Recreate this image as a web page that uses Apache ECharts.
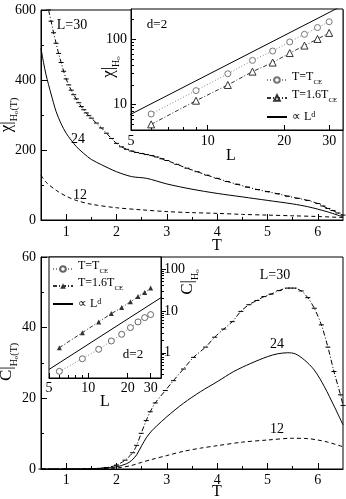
<!DOCTYPE html>
<html>
<head>
<meta charset="utf-8">
<script src="https://cdn.jsdelivr.net/npm/echarts@6/dist/echarts.min.js"></script>
<style>
  html, body { margin: 0; padding: 0; background: #fff; }
  #chart { width: 346px; height: 499px; }
</style>
</head>
<body>
<div id="chart"></div>
<script>
// upper panel: chi vs T for L = 30, 24, 12
const tTop30 = [0.65, 0.7, 0.75, 0.8, 0.85, 0.9, 0.95, 1.0, 1.05, 1.1, 1.15, 1.2, 1.25, 1.3, 1.35, 1.4, 1.45, 1.5,
  1.6, 1.7, 1.8, 1.9, 2.0, 2.1, 2.2, 2.3, 2.4, 2.5, 2.6, 2.7, 2.8, 2.9, 3.0,
  3.2, 3.4, 3.6, 3.8, 4.0, 4.2, 4.4, 4.6, 4.8, 5.0, 5.2, 5.4, 5.6, 5.8, 6.0,
  6.1, 6.2, 6.3, 6.4, 6.5];
const chi30 = [600, 568, 535, 505, 476, 450, 425, 403, 386, 371, 358, 346, 335, 324, 315, 306, 298, 291,
  277, 263, 248, 233, 219, 209, 202, 197, 193, 190, 187, 184, 180, 175, 170,
  159, 148, 138, 128, 119, 110, 102, 94, 87, 81, 75, 68, 62, 56, 47,
  40, 33, 27, 20, 14];
const tTop24 = [0.5, 0.55, 0.6, 0.7, 0.8, 0.9, 1.0, 1.1, 1.2, 1.35, 1.5, 1.7, 2.0, 2.3, 2.6, 3.0, 3.5, 4.0, 4.5, 5.0, 5.5, 5.8, 6.0, 6.2, 6.5];
const chi24 = [490, 450, 415, 360, 310, 275, 248, 228, 210, 190, 173, 158, 138, 124, 119, 103, 88, 76, 66, 56, 46, 38, 31, 23, 9];
const tTop12 = [0.5, 0.6, 0.8, 1.0, 1.2, 1.5, 2.0, 2.5, 3.0, 3.5, 4.0, 4.5, 5.0, 5.5, 6.0, 6.5];
const chi12 = [128, 108, 85, 68, 56, 45, 35, 29, 24, 21, 19, 16, 14, 12, 10, 7];

// upper inset: chi at H0 vs L
const insetL = [6, 9, 12, 15, 18, 21, 24, 27, 30];
const chiTce = [7.2, 16.4, 29.7, 47.5, 66, 91, 119, 151, 185];
const chiT16 = [5.0, 11.5, 20, 32, 44, 61.5, 80, 101, 125];
const chiLawL = [4.8, 34];
const chiLaw = [6.6, 330];

// lower panel: C vs T
const tBot30 = [0.5, 1.0, 1.5, 1.8, 2.0, 2.17, 2.32, 2.4, 2.49, 2.59, 2.67, 2.77, 2.97, 3.13, 3.33, 3.53, 3.77, 3.95,
  4.13, 4.3, 4.47, 4.63, 4.79, 4.93, 5.07, 5.23, 5.4, 5.53, 5.67, 5.8, 5.93, 6.07, 6.2, 6.32, 6.45, 6.5];
const c30 = [0, 0, 0.1, 0.4, 1.1, 2.5, 4.6, 6.7, 10.1, 13.7, 16.2, 18.7, 22.2, 25.0, 28.3, 31.6, 34.5, 37.3,
  39.6, 41.7, 44.6, 46.5, 47.7, 48.8, 49.5, 50.5, 51.2, 51.2, 50.4, 48.5, 45.5, 40.8, 34.5, 27.6, 21.0, 18];
const tBot24 = [0.5, 1.0, 1.5, 1.8, 2.0, 2.2, 2.3, 2.4, 2.5, 2.6, 2.7, 2.8, 3.0, 3.33, 3.67, 4.0, 4.33, 4.67, 5.0, 5.2,
  5.4, 5.55, 5.73, 5.93, 6.13, 6.33, 6.5];
const c24 = [0, 0, 0.1, 0.3, 0.6, 1.5, 2.4, 4.0, 6.6, 9.0, 10.8, 12.2, 14.8, 18.6, 21.9, 24.7, 27.6, 29.9, 31.8, 32.6,
  32.9, 32.6, 30.9, 28.0, 23.3, 17.6, 12.5];
const tBot12 = [0.5, 1.0, 1.5, 2.0, 2.3, 2.5, 2.7, 3.0, 3.33, 3.67, 4.0, 4.5, 5.0, 5.5, 5.8, 6.0, 6.2, 6.5];
const c12 = [0, 0, 0.05, 0.3, 1.0, 1.9, 2.7, 3.8, 5.0, 5.9, 6.6, 7.6, 8.2, 8.7, 8.6, 8.2, 7.6, 6.3];

// lower inset: C at H0 vs L
const cTce = [0.36, 0.72, 1.21, 1.91, 2.76, 3.98, 5.45, 6.9, 8.15];
const cT16 = [1.32, 3.02, 5.45, 8.6, 12, 16.4, 22, 27.5, 35];
const cLawL = [5, 36];
const cLaw = [0.40, 20.7];

// tick labels
const tTicks = [1, 2, 3, 4, 5, 6];
const tMinor = [1.5, 2.5, 3.5, 4.5, 5.5];
const chiTicks = [0, 200, 400, 600];
const chiMinor = [100, 300, 500];
const cTicks = [0, 20, 40, 60];
const cMinor = [10, 30, 50];
const lTicks = [5, 10, 20, 30];
const lMinor = [6, 7, 8, 9];
const chiInsetTicks = [10, 100];
const chiInsetMinor = [5, 6, 7, 8, 9, 20, 30, 40, 50, 60, 70, 80, 90, 200];
const cInsetTicks = [1, 10, 100];
const cInsetMinor = [0.3, 0.4, 0.5, 0.6, 0.7, 0.8, 0.9, 2, 3, 4, 5, 6, 7, 8, 9, 20, 30, 40, 50, 60, 70, 80, 90];

const FONT = 'Liberation Serif';
const zip = (xs, ys) => xs.map((x, i) => [x, ys[i]]);

const chart = echarts.init(document.getElementById('chart'));

function axis(grid, type, min, max, ticks, opts) {
  const o = opts || {};
  return {
    gridIndex: grid, type: type, min: min, max: max,
    position: o.position, z: o.z || 2,
    axisLine: { show: o.line !== false, onZero: false, lineStyle: { color: '#000', width: 1 } },
    axisTick: { show: true, inside: o.outside ? false : true, length: o.len || 5, customValues: ticks,
      lineStyle: { color: '#000', width: 1 } },
    axisLabel: o.labels === false ? { show: false } : {
      customValues: ticks, color: '#000', fontFamily: FONT, fontSize: o.fs || 14, margin: o.margin || 5
    },
    splitLine: { show: false },
    minorTick: { show: false }
  };
}

const line = (name, data, xi, yi, style, extra) => Object.assign({
  name: name, type: 'line', xAxisIndex: xi, yAxisIndex: yi, data: data,
  showSymbol: false, symbol: 'none', smooth: 0.3, clip: true,
  lineStyle: Object.assign({ color: '#000', width: 1 }, style)
}, extra || {});

const ticksMark = { showSymbol: true, showAllSymbol: true, symbol: 'rect', symbolSize: [5, 1],
  itemStyle: { color: '#000' } };

const legendNames = {
  tceA: '{n|T=T}{s|CE}', t16A: '{n|T=1.6T}{s|CE}', lawA: '{q|∝ L}{p|d}',
  tceB: '{n|T=T}{s|CE}', t16B: '{n|T=1.6T}{s|CE}', lawB: '{q|∝ L}{p|d}'
};
const legendRich = {
  n: { fontFamily: FONT, fontSize: 12, color: '#000', verticalAlign: 'bottom', lineHeight: 12, padding: [0, 0, 3, 0] },
  s: { fontFamily: FONT, fontSize: 7, color: '#000', verticalAlign: 'bottom', lineHeight: 8 },
  q: { fontFamily: FONT, fontSize: 12, color: '#000', verticalAlign: 'bottom', lineHeight: 12, padding: [4, 0, 0, 0] },
  p: { fontFamily: FONT, fontSize: 8, color: '#000', verticalAlign: 'top', lineHeight: 8 }
};
const hiddenMark = { color: 'rgba(0,0,0,0)', borderColor: 'rgba(0,0,0,0)' };

const txt = (x, y, text, size, extra) => Object.assign({
  type: 'text', x: x, y: y, z: 20,
  style: { text: text, fontFamily: FONT, fontSize: size || 14, fill: '#000', align: 'center', verticalAlign: 'middle' }
}, extra || {});

const yTitleRich = {
  a: { fontFamily: FONT, fontSize: 17, fill: '#000', verticalAlign: 'bottom', lineHeight: 17, padding: [0, 0, 4, 0] },
  b: { fontFamily: FONT, fontSize: 10, fill: '#000', verticalAlign: 'bottom', lineHeight: 10 },
  c: { fontFamily: FONT, fontSize: 7, fill: '#000', verticalAlign: 'bottom', lineHeight: 7 }
};
const rotText = (x, y, text) => ({
  type: 'text', x: x, y: y, rotation: Math.PI / 2, z: 20,
  style: { text: text, rich: yTitleRich, align: 'center', verticalAlign: 'middle' }
});

const option = {
  animation: false,
  backgroundColor: '#fff',
  grid: [
    { left: 41, top: 10, width: 302, height: 210, show: true, borderColor: '#000', borderWidth: 1 },
    { left: 131, top: 9, width: 212, height: 121, show: true, borderColor: '#000', borderWidth: 1, backgroundColor: '#fff', z: 3 },
    { left: 41, top: 257, width: 302, height: 212, show: true, borderColor: '#000', borderWidth: 1 },
    { left: 49, top: 257, width: 112, height: 121, show: true, borderColor: '#000', borderWidth: 1, backgroundColor: '#fff', z: 3 }
  ],
  xAxis: [
    axis(0, 'value', 0.5, 6.5, tTicks, { position: 'bottom', len: 6 }),
    axis(0, 'value', 0.5, 6.5, tMinor, { position: 'bottom', len: 3, labels: false, line: false }),
    axis(1, 'log', 5, 34, lTicks, { position: 'bottom', len: 5, z: 4, margin: 4 }),
    axis(1, 'log', 5, 34, lMinor, { position: 'bottom', len: 3, labels: false, line: false, z: 4 }),
    axis(2, 'value', 0.5, 6.5, tTicks, { position: 'bottom', len: 6, margin: 4 }),
    axis(2, 'value', 0.5, 6.5, tMinor, { position: 'bottom', len: 3, labels: false, line: false }),
    axis(3, 'log', 5, 36, lTicks, { position: 'bottom', len: 5, z: 4, margin: 3 }),
    axis(3, 'log', 5, 36, lMinor, { position: 'bottom', len: 3, labels: false, line: false, z: 4 })
  ],
  yAxis: [
    axis(0, 'value', 0, 600, chiTicks, { position: 'left', len: 6, margin: 5 }),
    axis(0, 'value', 0, 600, chiMinor, { position: 'left', len: 3, labels: false, line: false }),
    axis(1, 'log', 4.1, 290, chiInsetTicks, { position: 'left', len: 5, z: 4, margin: 4 }),
    axis(1, 'log', 4.1, 290, chiInsetMinor, { position: 'left', len: 3, labels: false, line: false, z: 4 }),
    axis(2, 'value', 0, 60, cTicks, { position: 'left', len: 6, margin: 5 }),
    axis(2, 'value', 0, 60, cMinor, { position: 'left', len: 3, labels: false, line: false }),
    axis(3, 'log', 0.25, 193, cInsetTicks, { position: 'right', len: 5, z: 4, margin: 3, outside: true }),
    axis(3, 'log', 0.25, 193, cInsetMinor, { position: 'right', len: 3, labels: false, line: false, z: 4, outside: true })
  ],
  legend: [
    {
      data: ['tceA', 't16A', { name: 'lawA', itemStyle: hiddenMark }], orient: 'vertical', left: 266, top: 71, z: 10,
      itemWidth: 20, itemHeight: 7, itemGap: 3, padding: 0,
      formatter: (n) => legendNames[n], textStyle: { rich: legendRich }, selectedMode: false
    },
    {
      data: ['tceB', 't16B', { name: 'lawB', itemStyle: hiddenMark }], orient: 'vertical', left: 52, top: 260, z: 10,
      itemWidth: 20, itemHeight: 7, itemGap: 2, padding: 0,
      formatter: (n) => legendNames[n], textStyle: { rich: legendRich }, selectedMode: false
    }
  ],
  graphic: [
    txt(72, 25, 'L=30'), txt(78, 139, '24'), txt(80, 195, '12'),
    txt(157, 25, 'd=2', 13),
    txt(275, 275, 'L=30'), txt(277, 344, '24'), txt(277, 429, '12'),
    txt(133, 355, 'd=2', 13),
    txt(217, 246, 'T', 16), txt(217, 492, 'T', 16),
    txt(231, 156, 'L', 16), txt(105, 402, 'L', 16),
    rotText(11, 115, '{a|χ|}{b|H}{c|o}{b|(T)}'),
    rotText(113, 67, '{a|χ|}{b|H}{c|o}'),
    rotText(11, 362, '{a|C|}{b|H}{c|o}{b|(T)}'),
    rotText(192, 282, '{a|C|}{b|H}{c|o}')
  ],
  series: [
    line('L30', zip(tTop30, chi30), 0, 0, { type: [5, 2, 1, 2] }, ticksMark),
    line('L24', zip(tTop24, chi24), 0, 0, {}),
    line('L12', zip(tTop12, chi12), 0, 0, { type: [4, 3] }),

    line('tceA', zip(insetL, chiTce), 2, 2, { color: '#888', type: [1, 2] },
      { showSymbol: true, symbol: 'circle', symbolSize: 6, smooth: false, z: 5,
        itemStyle: { color: '#fff', borderColor: '#777', borderWidth: 1 } }),
    line('t16A', zip(insetL, chiT16), 2, 2, { color: '#333', type: [4, 2, 1, 2] },
      { showSymbol: true, symbol: 'triangle', symbolSize: 7, smooth: false, z: 5,
        itemStyle: { color: '#fff', borderColor: '#333', borderWidth: 1 } }),
    line('lawA', zip(chiLawL, chiLaw), 2, 2, { color: '#000' }, { smooth: false, z: 5, itemStyle: { color: '#000' } }),

    line('C30', zip(tBot30, c30), 4, 4, { type: [5, 2, 1, 2] }, ticksMark),
    line('C24', zip(tBot24, c24), 4, 4, {}),
    line('C12', zip(tBot12, c12), 4, 4, { type: [4, 3] }),

    line('tceB', zip(insetL, cTce), 6, 6, { color: '#888', type: [1, 2] },
      { showSymbol: true, symbol: 'circle', symbolSize: 6, smooth: false, z: 5,
        itemStyle: { color: '#fff', borderColor: '#666', borderWidth: 1 } }),
    line('t16B', zip(insetL, cT16), 6, 6, { color: '#333', type: [4, 2, 1, 2] },
      { showSymbol: true, symbol: 'triangle', symbolSize: 5, smooth: false, z: 5,
        itemStyle: { color: '#333' } }),
    line('lawB', zip(cLawL, cLaw), 6, 6, { color: '#000' }, { smooth: false, z: 5, itemStyle: { color: '#000' } })
  ]
};

chart.setOption(option);
window.addEventListener('resize', () => chart.resize());
</script>
</body>
</html>
